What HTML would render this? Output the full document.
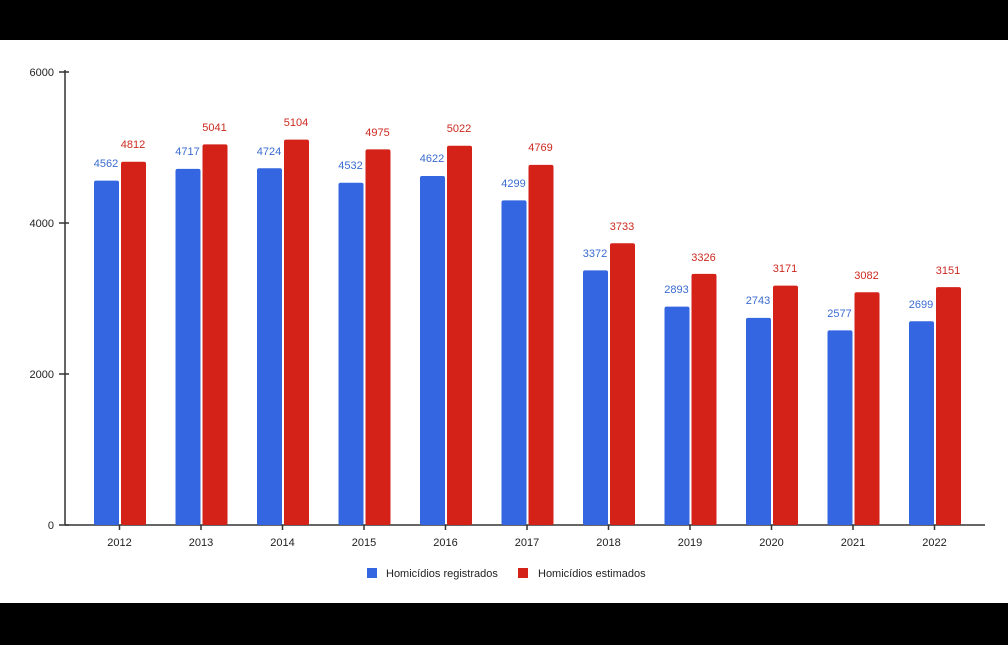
<!DOCTYPE html>
<html><head><meta charset="utf-8"><style>
body{margin:0;background:#fff}
svg{display:block}
text{font-family:"Liberation Sans",Arial,sans-serif}
</style></head><body>
<svg width="1008" height="645" viewBox="0 0 1008 645">
<rect width="1008" height="645" fill="#fff"/>
<rect x="0" y="0" width="1008" height="40" fill="#000"/>
<rect x="0" y="603" width="1008" height="42" fill="#000"/>
<g stroke="#333" stroke-width="1.5">
<line x1="65" y1="70" x2="65" y2="525"/>
<line x1="65" y1="525" x2="985" y2="525"/>
<line x1="59" y1="72" x2="69" y2="72"/>
<line x1="59" y1="223" x2="69" y2="223"/>
<line x1="59" y1="374" x2="69" y2="374"/>
<line x1="59" y1="525" x2="69" y2="525"/>
</g>
<g font-size="11" fill="#222" text-anchor="end">
<text x="54" y="76">6000</text><text x="54" y="227">4000</text><text x="54" y="378">2000</text><text x="54" y="529">0</text>
</g>
<g fill="#3366e0">
<rect x="94" y="180.6" width="25" height="344.4" rx="2"/>
<rect x="175.5" y="168.9" width="25" height="356.1" rx="2"/>
<rect x="257" y="168.3" width="25" height="356.7" rx="2"/>
<rect x="338.5" y="182.8" width="25" height="342.2" rx="2"/>
<rect x="420" y="176" width="25" height="349" rx="2"/>
<rect x="501.5" y="200.4" width="25" height="324.6" rx="2"/>
<rect x="583" y="270.4" width="25" height="254.6" rx="2"/>
<rect x="664.5" y="306.6" width="25" height="218.4" rx="2"/>
<rect x="746" y="317.9" width="25" height="207.1" rx="2"/>
<rect x="827.5" y="330.4" width="25" height="194.6" rx="2"/>
<rect x="909" y="321.2" width="25" height="203.8" rx="2"/>
</g>
<g fill="#d42219">
<rect x="121" y="161.7" width="25" height="363.3" rx="2"/>
<rect x="202.5" y="144.4" width="25" height="380.6" rx="2"/>
<rect x="284" y="139.6" width="25" height="385.4" rx="2"/>
<rect x="365.5" y="149.4" width="25" height="375.6" rx="2"/>
<rect x="447" y="145.8" width="25" height="379.2" rx="2"/>
<rect x="528.5" y="164.9" width="25" height="360.1" rx="2"/>
<rect x="610" y="243.2" width="25" height="281.8" rx="2"/>
<rect x="691.5" y="273.9" width="25" height="251.1" rx="2"/>
<rect x="773" y="285.6" width="25" height="239.4" rx="2"/>
<rect x="854.5" y="292.3" width="25" height="232.7" rx="2"/>
<rect x="936" y="287.1" width="25" height="237.9" rx="2"/>
</g>
<g font-size="11" fill="#3a6bd0" text-anchor="middle">
<text x="106" y="167">4562</text>
<text x="187.5" y="155">4717</text>
<text x="269" y="155">4724</text>
<text x="350.5" y="169">4532</text>
<text x="432" y="162">4622</text>
<text x="513.5" y="187">4299</text>
<text x="595" y="257">3372</text>
<text x="676.5" y="293">2893</text>
<text x="758" y="304">2743</text>
<text x="839.5" y="317">2577</text>
<text x="921" y="308">2699</text>
</g>
<g font-size="11" fill="#cc2a20" text-anchor="middle">
<text x="133" y="148">4812</text>
<text x="214.5" y="131">5041</text>
<text x="296" y="126">5104</text>
<text x="377.5" y="136">4975</text>
<text x="459" y="132">5022</text>
<text x="540.5" y="151">4769</text>
<text x="622" y="230">3733</text>
<text x="703.5" y="261">3326</text>
<text x="785" y="272">3171</text>
<text x="866.5" y="279">3082</text>
<text x="948" y="274">3151</text>
</g>
<g stroke="#333" stroke-width="1.5">
<line x1="119.5" y1="525" x2="119.5" y2="530"/><line x1="201" y1="525" x2="201" y2="530"/><line x1="282.5" y1="525" x2="282.5" y2="530"/><line x1="364" y1="525" x2="364" y2="530"/><line x1="445.5" y1="525" x2="445.5" y2="530"/><line x1="527" y1="525" x2="527" y2="530"/><line x1="608.5" y1="525" x2="608.5" y2="530"/><line x1="690" y1="525" x2="690" y2="530"/><line x1="771.5" y1="525" x2="771.5" y2="530"/><line x1="853" y1="525" x2="853" y2="530"/><line x1="934.5" y1="525" x2="934.5" y2="530"/>
</g>
<g font-size="11" fill="#222" text-anchor="middle">
<text x="119.5" y="546">2012</text><text x="201" y="546">2013</text><text x="282.5" y="546">2014</text><text x="364" y="546">2015</text><text x="445.5" y="546">2016</text><text x="527" y="546">2017</text><text x="608.5" y="546">2018</text><text x="690" y="546">2019</text><text x="771.5" y="546">2020</text><text x="853" y="546">2021</text><text x="934.5" y="546">2022</text>
</g>
<g font-size="11" fill="#222">
<rect x="367" y="568" width="10" height="10" fill="#3366e0"/>
<text x="386" y="577">Homicídios registrados</text>
<rect x="518" y="568" width="10" height="10" fill="#d42219"/>
<text x="538" y="577">Homicídios estimados</text>
</g>
</svg>
</body></html>
